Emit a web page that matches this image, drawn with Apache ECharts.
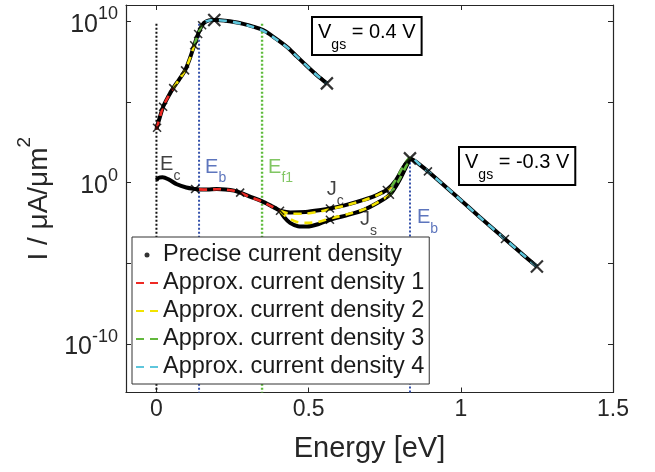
<!DOCTYPE html>
<html><head><meta charset="utf-8">
<script src="https://cdn.jsdelivr.net/npm/echarts@6/dist/echarts.min.js"></script>
<style>html,body{margin:0;padding:0;background:#fff}#c{width:655px;height:472px}</style>
</head><body><div id="c"></div>
<script>
// ---------------- data ----------------
const xTicks = [0, 0.5, 1, 1.5];
const yTicks = [1e-10, 1e-5, 1, 1e5, 1e10];
const yLabelTicks = [1e-10, 1, 1e10];
const legendNames = ['Precise current density', 'Approx. current density 1', 'Approx. current density 2', 'Approx. current density 3', 'Approx. current density 4'];

// precise current density, Vgs = 0.4 V  [E (eV), I (uA/um^2)]
const preciseHigh = [[0.000,2.0e3],[0.005,4.5e3],[0.012,1.26e4],[0.022,5.0e4],[0.038,2.0e5],[0.055,7.1e5],[0.075,2.5e6],[0.094,8.9e6],[0.110,5.0e7],[0.124,3.2e8],[0.137,1.6e9],[0.150,5.6e9],[0.163,9.5e9],[0.182,1.17e10],[0.200,1.17e10],[0.225,1.07e10],[0.255,8.9e9],[0.285,6.8e9],[0.315,4.8e9],[0.350,2.8e9],[0.390,8.9e8],[0.429,2.5e8],[0.462,6.3e7],[0.495,1.6e7],[0.527,4.5e6],[0.560,1.4e6]];
// precise current density, Vgs = -0.3 V
const preciseLowStart = [[0.000,1.41],[0.008,2.0],[0.020,2.14],[0.040,1.58],[0.067,0.79],[0.098,0.50],[0.127,0.40],[0.140,0.38],[0.167,0.38],[0.198,0.40],[0.227,0.38],[0.255,0.32],[0.275,0.24],[0.305,0.14],[0.346,0.071],[0.378,0.035],[0.406,0.018]];
const preciseLowJc = [[0.406,0.018],[0.44,0.0141],[0.49,0.0151],[0.54,0.020],[0.57,0.025],[0.63,0.045],[0.68,0.085],[0.72,0.158],[0.757,0.35],[0.787,1.41],[0.811,8.9],[0.833,31.6]];
const preciseLowJs = [[0.406,0.018],[0.42,0.0071],[0.439,0.0032],[0.465,0.0020],[0.495,0.0019],[0.535,0.0028],[0.57,0.0050],[0.63,0.010],[0.68,0.020],[0.727,0.056],[0.767,0.178],[0.797,1.26],[0.817,7.1],[0.833,31.6]];
const preciseLowTail = [[0.833,31.6],[0.848,22.4],[0.866,12.6],[0.892,5.0],[0.98,0.178],[1.06,7.9e-3],[1.145,3.2e-4],[1.20,4.0e-5],[1.25,6.3e-6]];

// approximations
const approx1High = [[0.000,2.0e3],[0.012,1.26e4],[0.022,5.0e4],[0.038,2.0e5],[0.055,7.1e5]];
const approx1Low = [[0.140,0.38],[0.167,0.37],[0.198,0.39],[0.227,0.37],[0.255,0.31],[0.275,0.23],[0.305,0.135],[0.346,0.068],[0.378,0.034],[0.406,0.018]];
const approx2High = [[0.055,7.1e5],[0.075,2.5e6],[0.094,8.9e6],[0.110,5.0e7],[0.124,3.2e8]];
const approx2LowJc = [[0.406,0.018],[0.44,0.0118],[0.49,0.012],[0.54,0.0166],[0.57,0.0224],[0.63,0.042],[0.68,0.079],[0.72,0.151],[0.757,0.34],[0.772,0.55]];
const approx2LowJs = [[0.406,0.018],[0.42,0.010],[0.439,0.0056],[0.465,0.0035],[0.495,0.0032],[0.535,0.0038],[0.57,0.006],[0.63,0.0112],[0.68,0.0214],[0.727,0.059],[0.767,0.178]];
const approx3High = [[0.124,3.2e8],[0.137,1.6e9],[0.150,5.6e9],[0.160,9.3e9]];
const approx3LowJc = [[0.772,0.55],[0.787,1.6],[0.811,10],[0.833,33],[0.848,25]];
const approx3LowJs = [[0.767,0.178],[0.797,1.41],[0.817,7.9],[0.833,31.6]];
const approx4High = [[0.160,9.3e9],[0.182,1.15e10],[0.200,1.15e10],[0.225,1.05e10],[0.255,8.7e9],[0.285,6.6e9],[0.315,4.5e9],[0.350,2.6e9],[0.390,8.3e8],[0.429,2.4e8],[0.462,6.3e7],[0.495,1.6e7],[0.527,4.5e6],[0.560,1.4e6]];
const approx4Low = [[0.848,25],[0.866,12.6],[0.892,5.0],[0.98,0.178],[1.06,7.9e-3],[1.145,3.2e-4],[1.20,4.0e-5],[1.25,6.3e-6]];

// cross markers on the precise curves
const crossSmall = [[0.002,2.5e3],[0.022,5.0e4],[0.055,7.1e5],[0.094,8.9e6],[0.124,3.2e8],[0.137,1.6e9],[0.150,5.6e9],[0.127,0.40],[0.275,0.24],[0.406,0.018],[0.57,0.025],[0.57,0.0050],[0.757,0.35],[0.767,0.178],[0.892,5.0],[1.145,3.2e-4]];
const crossBig = [[0.19,1.17e10],[0.56,1.4e6],[0.833,31.6],[1.25,6.3e-6]];

// vertical energy levels [E, top I]
const levelEc = [0, 7e9];
const levelEbHigh = [0.14, 7e9];
const levelEf1 = [0.347, 7e9];
const levelEbLow = [0.833, 31.6];
const yBottom = 1e-13;

// text annotations [E, I] (top-left anchor)
const annEc = [0.012, 51];
const annEb = [0.16, 35];
const annEf1 = [0.367, 35];
const annJc = [0.56, 1.45];
const annJs = [0.669, 0.0204];
const annEb2 = [0.856, 0.027];
const boxHigh = [0.514, 1.57e10];
const boxLow = [0.997, 140];
const boxTexts = ['0.4 V', '-0.3 V'];

// ---------------- styles ----------------
const FONT = 'Liberation Sans, Arial, Helvetica, sans-serif';
const AX = '#262626';
const C = {red:'#ee2a24', yellow:'#f2e300', green:'#62b83c', cyan:'#5ec6dc', blue:'#3552ac', greenDot:'#5dbb3a'};

function precise(data){
  return {type:'line', name:legendNames[0], data, symbol:'none', smooth:0.3, z:3,
    lineStyle:{color:'#000', width:4}, itemStyle:{color:'#000'}, silent:true};
}
function approx(idx, color, data){
  return {type:'line', name:legendNames[idx], data, symbol:'none', smooth:0.3, z:4,
    lineStyle:{color, width:2.6, type:[8,6]}, itemStyle:{color}, silent:true};
}
function vline(level, color, width){
  return {type:'line', data:[[level[0], level[1]],[level[0], yBottom]], symbol:'none', z:2, silent:true,
    lineStyle:{color, width, type:[2,2]}};
}
function subLabel(pos, main, sub, color){
  return {value:pos, label:{show:true, position:[0,0], align:'left', verticalAlign:'top',
    formatter:'{m|'+main+'}{s|'+sub+'}',
    rich:{m:{fontSize:20, color, fontFamily:FONT, lineHeight:28, verticalAlign:'top'},
          s:{fontSize:14, color, fontFamily:FONT, verticalAlign:'bottom'}}}};
}

const chart = echarts.init(document.getElementById('c'), null, {renderer:'canvas'});
const xBase = {type:'value', min:-0.1, max:1.5, splitLine:{show:false},
  axisLine:{show:true, onZero:false, lineStyle:{color:AX, width:1.2}},
  axisTick:{show:true, inside:true, length:5, customValues:xTicks, lineStyle:{color:AX}}};
const yBase = {type:'log', logBase:10, min:1e-13, max:1e11, splitLine:{show:false},
  axisLine:{show:true, onZero:false, lineStyle:{color:AX, width:1.2}},
  axisTick:{show:true, inside:true, length:5, customValues:yTicks, lineStyle:{color:AX}}};
const noSym = {opacity:0};

chart.setOption({
  animation:false,
  backgroundColor:'#fff',
  textStyle:{fontFamily:FONT},
  grid:{left:126, right:42, top:5, bottom:79.5, containLabel:false},
  xAxis:[
    Object.assign({}, xBase, {position:'bottom',
      axisLabel:{customValues:xTicks, fontSize:23, color:AX, fontFamily:FONT, margin:6,
        formatter:v=>String(v)},
      name:'Energy [eV]', nameLocation:'middle', nameGap:42,
      nameTextStyle:{fontSize:29, color:AX, fontFamily:FONT}}),
    Object.assign({}, xBase, {position:'top', axisLabel:{show:false}})
  ],
  yAxis:[
    Object.assign({}, yBase, {position:'left',
      axisLabel:{customValues:yLabelTicks, margin:8, color:AX,
        formatter:v=>'{b|10}{p|'+Math.round(Math.log10(v))+'}',
        rich:{b:{fontSize:25, color:AX, fontFamily:FONT, lineHeight:32, verticalAlign:'bottom'},
              p:{fontSize:18, color:AX, fontFamily:FONT, verticalAlign:'top'}}},
      name:'{t|I / μA/μm}{p|2}', nameLocation:'middle', nameGap:72,
      nameTextStyle:{rich:{t:{fontSize:28, color:AX, fontFamily:FONT, lineHeight:38, verticalAlign:'bottom'},
                           p:{fontSize:19, color:AX, fontFamily:FONT, verticalAlign:'top'}}}}),
    Object.assign({}, yBase, {position:'right', axisLabel:{show:false}})
  ],
  legend:{
    data:[{name:legendNames[0], icon:'circle'},
          {name:legendNames[1], itemStyle:noSym},
          {name:legendNames[2], itemStyle:noSym},
          {name:legendNames[3], itemStyle:noSym},
          {name:legendNames[4], itemStyle:noSym}],
    orient:'vertical', left:132, top:237, z:20,
    itemWidth:22, itemHeight:5, itemGap:4,
    padding:[6,5,5,3],
    backgroundColor:'#fff', borderColor:'#333', borderWidth:1,
    textStyle:{fontSize:23.5, color:'#1a1a1a', fontFamily:FONT, lineHeight:24},
    selectedMode:false
  },
  series:[
    {type:'scatter', name:legendNames[0], data:[], symbol:'circle', symbolSize:4, itemStyle:{color:'#000'}},
    vline(levelEc, '#111', 2),
    vline(levelEbHigh, C.blue, 2),
    vline(levelEf1, C.greenDot, 2.4),
    vline(levelEbLow, C.blue, 2),
    precise(preciseHigh), precise(preciseLowStart), precise(preciseLowJc), precise(preciseLowJs), precise(preciseLowTail),
    approx(1, C.red, approx1High), approx(1, C.red, approx1Low),
    approx(2, C.yellow, approx2High), approx(2, C.yellow, approx2LowJc), approx(2, C.yellow, approx2LowJs),
    approx(3, C.green, approx3High), approx(3, C.green, approx3LowJc), approx(3, C.green, approx3LowJs),
    approx(4, C.cyan, approx4High), approx(4, C.cyan, approx4Low),
    {type:'scatter', data:crossSmall, symbol:'path://M0,0L10,10M10,0L0,10', symbolSize:8, z:5, silent:true,
      itemStyle:{color:'none', borderColor:'#000', borderWidth:1.6}},
    {type:'scatter', data:crossBig, symbol:'path://M0,0L10,10M10,0L0,10', symbolSize:12, z:5, silent:true,
      itemStyle:{color:'none', borderColor:'#000', borderWidth:2.2}},
    {type:'scatter', symbolSize:0.1, z:6, silent:true, itemStyle:{color:'transparent'},
      data:[
        subLabel(annEc, 'E', 'c', '#111'),
        subLabel(annEb, 'E', 'b', C.blue),
        subLabel(annEf1, 'E', 'f1', C.green),
        subLabel(annJc, 'J', 'c', '#111'),
        subLabel(annJs, 'J', 's', '#111'),
        subLabel(annEb2, 'E', 'b', C.blue)
      ]}
  ]
});

// annotation boxes anchored at data coordinates
const boxes = [boxHigh, boxLow].map((pos, i) => {
  const p = chart.convertToPixel({xAxisIndex:0, yAxisIndex:0}, pos);
  return {type:'text', x:Math.round(p[0]), y:Math.round(p[1]), z:30,
    style:{text:'{m|V}{s|gs}{m| = '+boxTexts[i]+'}', align:'left', verticalAlign:'top',
      backgroundColor:'#fff', borderColor:'#000', borderWidth:2, padding:[4,5,2,5],
      rich:{m:{fontSize:20, fill:'#000', fontFamily:FONT, lineHeight:30, verticalAlign:'top'},
            s:{fontSize:14, fill:'#000', fontFamily:FONT, verticalAlign:'bottom'}}}};
});
chart.setOption({graphic:{elements:boxes}});
</script></body></html>
